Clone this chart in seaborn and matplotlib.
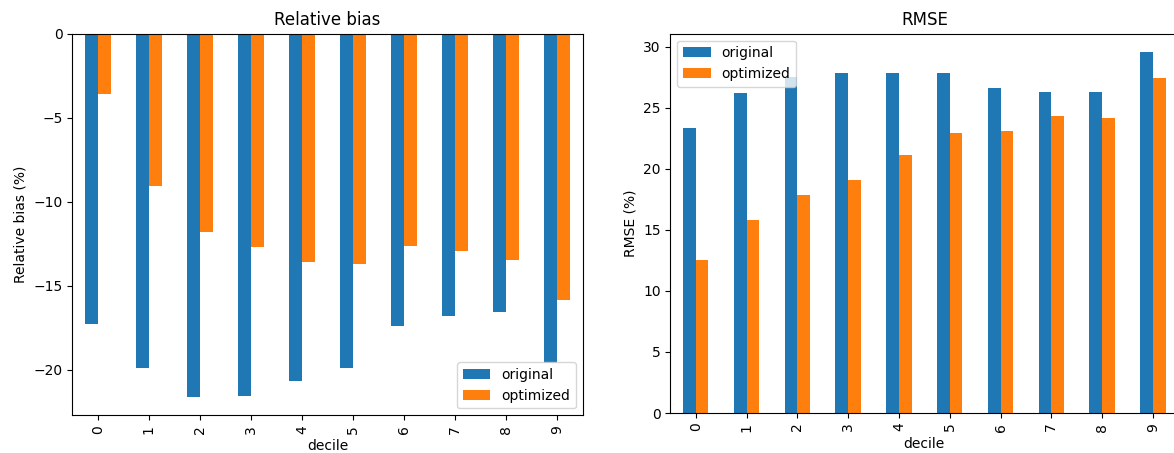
# Relative bias e RMSE por decil - original vs optimized
import pandas as pd
import matplotlib
matplotlib.use('Agg')
import matplotlib.pyplot as plt
import seaborn as sns

# Dados
deciles = ['0', '1', '2', '3', '4', '5', '6', '7', '8', '9']
series = ['original', 'optimized']
bias_original = [-17.26, -19.9, -21.64, -21.58, -20.7, -19.9, -17.42, -16.83, -16.6, -19.6]
bias_optimized = [-3.6, -9.05, -11.83, -12.71, -13.58, -13.74, -12.65, -12.93, -13.48, -15.87]
rmse_original = [23.39, 26.2, 27.5, 27.9, 27.9, 27.9, 26.6, 26.3, 26.3, 29.6]
rmse_optimized = [12.56, 15.83, 17.88, 19.13, 21.15, 22.93, 23.12, 24.37, 24.15, 27.44]
cores = ['#1f77b4', '#ff7f0e']

def long_df(orig, opt, col):
    df = pd.DataFrame({'decile': deciles * 2,
                       'serie': [series[0]] * len(deciles) + [series[1]] * len(deciles),
                       col: orig + opt})
    return df

df_bias = long_df(bias_original, bias_optimized, 'bias')
df_rmse = long_df(rmse_original, rmse_optimized, 'rmse')

fig = plt.figure(figsize=(11.74, 4.53), dpi=100)
# a figura original corta o eixo da direita
ax1 = fig.add_axes([0.0616, 0.0832, 0.4348, 0.8424])
ax2 = fig.add_axes([0.571, 0.0883, 0.4327, 0.8373])

sns.barplot(data=df_bias, x='decile', y='bias', hue='serie', order=deciles, hue_order=series,
            palette=cores, saturation=1, width=0.5, linewidth=0, ax=ax1)
ax1.set_title('Relative bias', fontsize=12)
ax1.set_xlabel('decile', fontsize=10)
ax1.set_ylabel('Relative bias (%)', fontsize=10)
ax1.legend(loc='lower right', fontsize=10)
ax1.set_yticks([0, -5, -10, -15, -20])

sns.barplot(data=df_rmse, x='decile', y='rmse', hue='serie', order=deciles, hue_order=series,
            palette=cores, saturation=1, width=0.5, linewidth=0, ax=ax2)
ax2.set_title('RMSE', fontsize=12)
ax2.set_xlabel('decile', fontsize=10)
ax2.set_ylabel('RMSE (%)', fontsize=10)
ax2.legend(loc='upper left', fontsize=10)

for ax in (ax1, ax2):
    ax.tick_params(axis='x', labelrotation=90, labelsize=10)
    ax.tick_params(axis='y', labelsize=10)
    ax.set_xlim(-0.5, 9.5)

fig.savefig('out.png', dpi=100)
